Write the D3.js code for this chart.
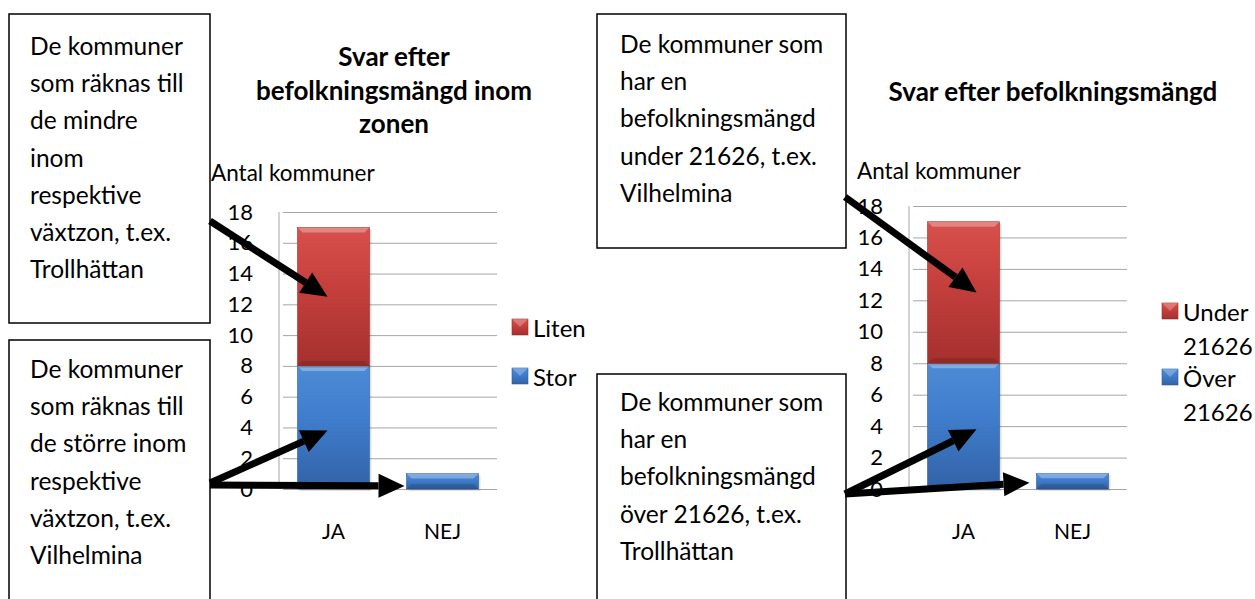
<!DOCTYPE html>
<html>
<head>
<meta charset="utf-8">
<script src="https://cdn.jsdelivr.net/npm/d3@7"></script>
<style>
  body { margin: 0; background: #fff; }
  svg { display: block; font-family: Lato, "Open Sans", sans-serif; }
</style>
</head>
<body>
<svg id="chart" width="1255" height="599"></svg>
<script>
// data
const categories = ["JA", "NEJ"];
const yTicks = [0, 2, 4, 6, 8, 10, 12, 14, 16, 18];

const leftSeries = ["Stor", "Liten"];
const leftStor = [8, 1];
const leftLiten = [9, 0];

const rightSeries = ["Över 21626", "Under 21626"];
const rightOver = [8, 1];
const rightUnder = [9, 0];

const leftTitle = ["Svar efter", "befolkningsmängd inom", "zonen"];
const rightTitle = ["Svar efter befolkningsmängd"];
const yLabel = "Antal kommuner";

const boxTexts = [
  ["De kommuner", "som räknas till", "de mindre", "inom", "respektive", "växtzon, t.ex.", "Trollhättan"],
  ["De kommuner", "som räknas till", "de större inom", "respektive", "växtzon, t.ex.", "Vilhelmina"],
  ["De kommuner som", "har en", "befolkningsmängd", "under 21626, t.ex.", "Vilhelmina"],
  ["De kommuner som", "har en", "befolkningsmängd", "över 21626, t.ex.", "Trollhättan"]
];

const svg = d3.select("#chart");
const defs = svg.append("defs");

function grad(id, top, mid, bot) {
  const g = defs.append("linearGradient").attr("id", id)
    .attr("x1", 0).attr("y1", 0).attr("x2", 0).attr("y2", 1);
  g.append("stop").attr("offset", "0%").attr("stop-color", top);
  g.append("stop").attr("offset", "45%").attr("stop-color", mid);
  g.append("stop").attr("offset", "100%").attr("stop-color", bot);
}
grad("gRed", "#d9504c", "#c43f3c", "#a4302e");
grad("gBlue", "#4d8bd6", "#3f7ccb", "#3262a6");
const colors = { red: "url(#gRed)", blue: "url(#gBlue)" };
const edgeCol = { red: "#9a2e2c", blue: "#2f5c98" };

function drawChart(opt) {
  const x = d3.scaleBand().domain(categories).range([opt.x0, opt.x1]).paddingInner(0.34).paddingOuter(0.17);
  const y = d3.scaleLinear().domain([0, 18]).range([opt.yBottom, opt.yTop]);
  const g = svg.append("g");

  // gridlines + tick labels
  g.append("g")
    .attr("transform", `translate(${opt.x0},0)`)
    .call(d3.axisLeft(y).tickValues(yTicks).tickSize(-(opt.x1 - opt.x0)).tickPadding(10))
    .call(a => a.select(".domain").remove())
    .call(a => a.selectAll(".tick line").attr("stroke", "#a6a6a6").attr("x1", 4).attr("x2", opt.x1 - opt.x0))
    .call(a => a.selectAll(".tick text").attr("font-size", 22).attr("fill", "#000")
      .attr("x", -opt.x0 + opt.tickRight).attr("font-family", "Lato, sans-serif"));
  g.append("line")
    .attr("x1", opt.x0).attr("x2", opt.x0).attr("y1", y(18)).attr("y2", y(0))
    .attr("stroke", "#a6a6a6");

  // category labels
  g.append("g")
    .attr("transform", `translate(0,${opt.yBottom})`)
    .call(d3.axisBottom(x).tickSize(0).tickPadding(35))
    .call(a => a.select(".domain").remove())
    .call(a => a.selectAll("text").attr("font-size", 21).attr("fill", "#000").attr("font-family", "Lato, sans-serif"));

  // stacked bars
  const rows = categories.map((c, i) => ({ cat: c, a: opt.lower[i], b: opt.upper[i] }));
  const stack = d3.stack().keys(["a", "b"])(rows);
  const colorKeys = ["blue", "red"];
  stack.forEach((layer, li) => {
    layer.forEach(d => {
      const h = y(d[0]) - y(d[1]);
      if (h <= 0) return;
      const bx = x(d.data.cat), bw = x.bandwidth(), by = y(d[1]);
      const k = colorKeys[li];
      g.append("rect").attr("x", bx + 2).attr("y", by + 2).attr("width", bw).attr("height", h)
        .attr("fill", "#000").attr("opacity", 0.12);
      g.append("rect").attr("x", bx).attr("y", by).attr("width", bw).attr("height", h)
        .attr("fill", colors[k]).attr("stroke", edgeCol[k]).attr("stroke-width", 0.6);
      const bev = Math.min(5, h / 3);
      g.append("path")
        .attr("d", `M${bx},${by}L${bx + bw},${by}L${bx + bw - bev},${by + bev}L${bx + bev},${by + bev}Z`)
        .attr("fill", "#fff").attr("opacity", 0.3);
      g.append("path")
        .attr("d", `M${bx},${by + h}L${bx + bw},${by + h}L${bx + bw - bev},${by + h - bev}L${bx + bev},${by + h - bev}Z`)
        .attr("fill", "#000").attr("opacity", 0.12);
    });
  });

  // title
  g.append("text").attr("text-anchor", "middle").attr("font-weight", "bold").attr("font-size", 26)
    .attr("dominant-baseline", "central")
    .selectAll("tspan").data(opt.title).join("tspan")
    .attr("x", opt.titleX).attr("y", (d, i) => opt.titleY + i * 33.5).text(d => d);

  // y label
  g.append("text").attr("x", opt.labelX).attr("y", opt.labelY).attr("font-size", 22.5)
    .attr("dominant-baseline", "central").text(yLabel);

  // legend
  const lg = g.append("g");
  opt.legend.forEach((item, i) => {
    const ly = opt.legendY[i];
    const k = item.color;
    lg.append("rect").attr("x", opt.legendX).attr("y", ly - 8).attr("width", 16).attr("height", 16)
      .attr("fill", colors[k]).attr("stroke", edgeCol[k]).attr("stroke-width", 0.6);
    lg.append("path")
      .attr("d", `M${opt.legendX},${ly - 8}L${opt.legendX + 16},${ly - 8}L${opt.legendX + 8},${ly}Z`)
      .attr("fill", "#fff").attr("opacity", 0.25);
    lg.append("text").attr("font-size", 24).attr("dominant-baseline", "central")
      .selectAll("tspan").data(item.lines).join("tspan")
      .attr("x", opt.legendX + 21).attr("y", (d, j) => ly + j * 34).text(d => d);
  });

  return { x, y };
}

const L = drawChart({
  x0: 279, x1: 497, yTop: 212, yBottom: 489, tickRight: 253,
  lower: leftStor, upper: leftLiten,
  title: leftTitle, titleX: 394, titleY: 56,
  labelX: 211, labelY: 172,
  legendX: 512, legendY: [327, 376],
  legend: [{ color: "red", lines: ["Liten"] }, { color: "blue", lines: ["Stor"] }]
});

const R = drawChart({
  x0: 909, x1: 1127, yTop: 206, yBottom: 489, tickRight: 883,
  lower: rightOver, upper: rightUnder,
  title: rightTitle, titleX: 1053, titleY: 91,
  labelX: 857, labelY: 170,
  legendX: 1162, legendY: [311, 377],
  legend: [{ color: "red", lines: ["Under", "21626"] }, { color: "blue", lines: ["Över", "21626"] }]
});

// callout boxes
const boxes = [
  { x: 9, y: 14, w: 201, h: 309, tx: 30, ty: 45 },
  { x: 9, y: 340, w: 201, h: 280, tx: 30, ty: 368 },
  { x: 597, y: 14, w: 249, h: 234, tx: 620, ty: 43 },
  { x: 597, y: 374, w: 249, h: 250, tx: 620, ty: 401 }
];
boxes.forEach((b, i) => {
  svg.append("rect").attr("x", b.x).attr("y", b.y).attr("width", b.w).attr("height", b.h)
    .attr("fill", "#fff").attr("stroke", "#000").attr("stroke-width", 1.5);
  svg.append("text").attr("font-size", 24.5).attr("dominant-baseline", "central")
    .selectAll("tspan").data(boxTexts[i]).join("tspan")
    .attr("x", b.tx).attr("y", (d, j) => b.ty + j * 37.2).text(d => d);
});

// arrows
function arrow(x1, y1, x2, y2) {
  const ang = Math.atan2(y2 - y1, x2 - x1);
  const len = 26, half = 12;
  const bx = x2 - len * Math.cos(ang), by = y2 - len * Math.sin(ang);
  svg.append("line").attr("x1", x1).attr("y1", y1).attr("x2", bx).attr("y2", by)
    .attr("stroke", "#000").attr("stroke-width", 7);
  const px = -Math.sin(ang) * half, py = Math.cos(ang) * half;
  svg.append("path")
    .attr("d", `M${x2},${y2}L${bx + px},${by + py}L${bx - px},${by - py}Z`)
    .attr("fill", "#000");
}
arrow(210, 221, L.x("JA") + 30, L.y(12.5));
arrow(210, 483, L.x("JA") + 30, L.y(3.8));
arrow(210, 485, L.x("NEJ") - 2, L.y(0.2));
arrow(845, 197, R.x("JA") + 49, R.y(12.5));
arrow(845, 494, R.x("JA") + 49, R.y(3.8));
arrow(845, 494, R.x("NEJ") - 7, R.y(0.4));
</script>
</body>
</html>
